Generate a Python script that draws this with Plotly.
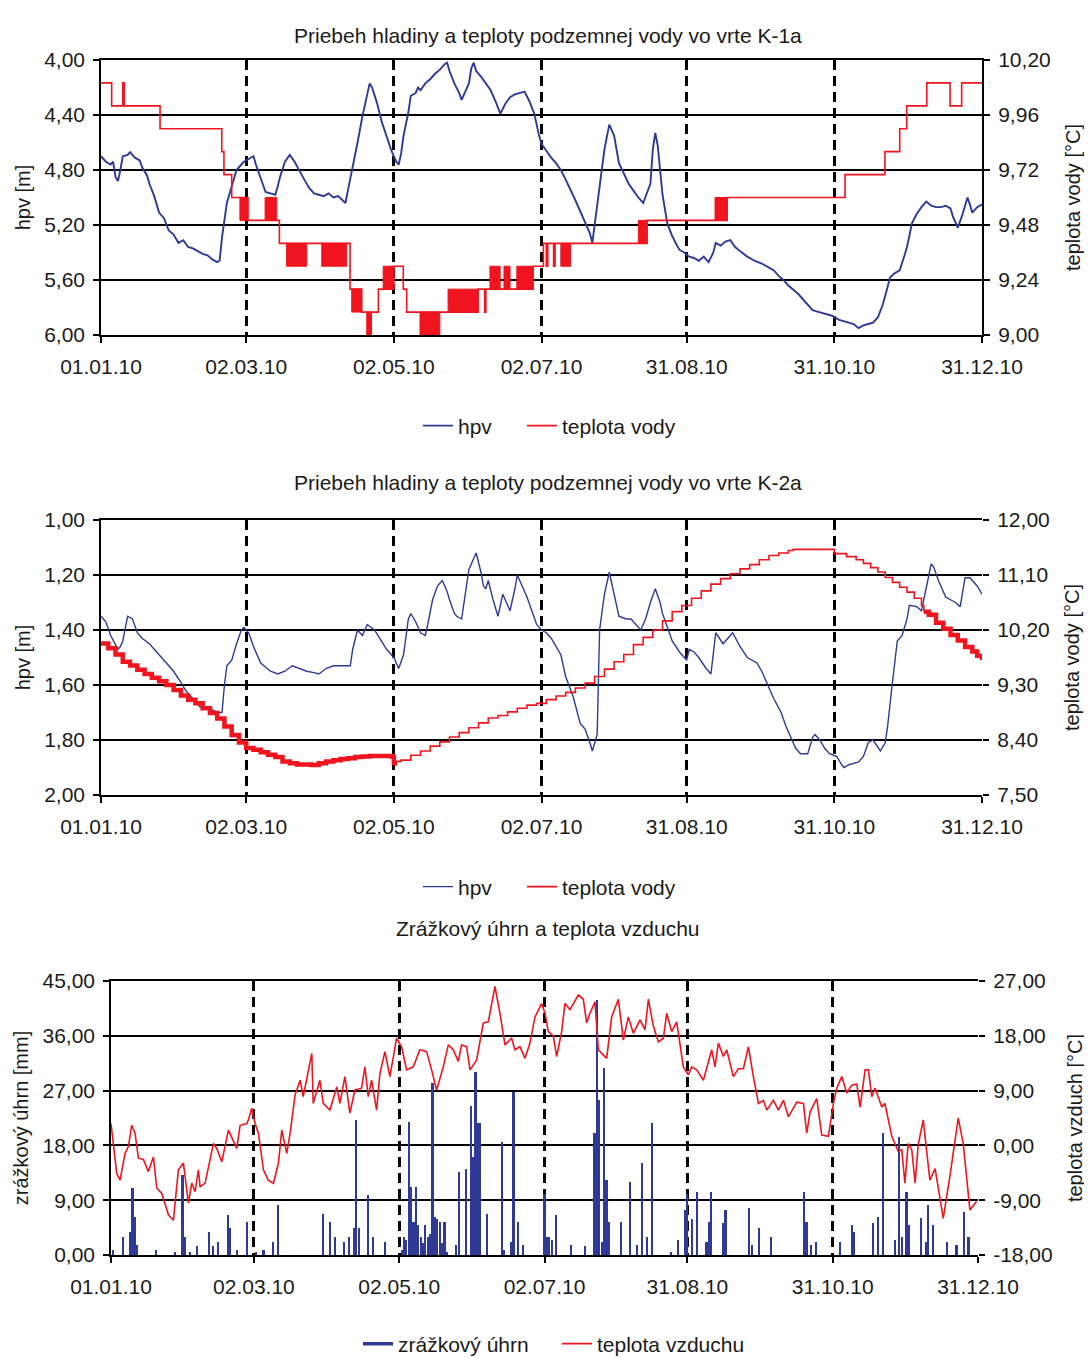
import plotly.graph_objects as go

# ---------------- data ----------------
tick_days = [0, 60, 121, 182, 242, 303, 364]
tick_text = ["01.01.10", "02.03.10", "02.05.10", "02.07.10", "31.08.10", "31.10.10", "31.12.10"]
dash_days_top = [60, 121, 182, 242, 303]
dash_days_low = [60, 121, 182, 242, 303, 364]

# axis tick values
k1_hpv_ticks = [4.0, 4.4, 4.8, 5.2, 5.6, 6.0]
k1_temp_ticks = [9.0, 9.24, 9.48, 9.72, 9.96, 10.2]
k2_hpv_ticks = [1.0, 1.2, 1.4, 1.6, 1.8, 2.0]
k2_temp_ticks = [7.5, 8.4, 9.3, 10.2, 11.1, 12.0]
rain_ticks = [0, 9, 18, 27, 36, 45]
air_ticks = [-18, -9, 0, 9, 18, 27]

# K-1a: groundwater level (m below surface)
k1_hpv_day = [
    0, 2, 4, 5, 6, 7, 8, 9, 11, 12,
    14, 16, 17, 19, 20, 22, 24, 26, 28, 30,
    32, 34, 36, 38, 40, 42, 44, 46, 48, 49,
    50, 51, 52, 54, 56, 58, 59, 61, 63, 64,
    66, 68, 70, 72, 73, 74, 76, 78, 80, 82,
    84, 86, 88, 90, 92, 94, 96, 98, 100, 101,
    102, 104, 106, 108, 110, 111, 112, 114, 116, 118,
    120, 122, 123, 124, 125, 127, 128, 130, 131, 132,
    134, 136, 138, 140, 142, 143, 144, 146, 148, 149,
    150, 152, 153, 154, 155, 157, 159, 161, 163, 165,
    167, 169, 171, 173, 175, 177, 179, 181, 182, 184,
    186, 188, 190, 192, 194, 196, 198, 200, 202, 203,
    204, 206, 208, 210, 212, 214, 216, 218, 220, 222,
    224, 226, 227, 228, 229, 230, 231, 232, 234, 236,
    238, 239, 241, 243, 245, 247, 249, 251, 253, 254,
    256, 258, 260, 262, 264, 267, 270, 273, 276, 278,
    280, 282, 284, 286, 288, 290, 292, 294, 296, 298,
    300, 302, 305, 307, 309, 311, 313, 315, 317, 319,
    321, 323, 325, 326, 328, 330, 332, 333, 334, 335,
    337, 339, 341, 343, 345, 347, 349, 351, 352, 354,
    356, 358, 359, 360, 362, 364]
k1_hpv = [
    4.70, 4.74, 4.76, 4.74, 4.85, 4.88, 4.80, 4.70, 4.69, 4.67,
    4.71, 4.73, 4.78, 4.84, 4.90, 4.99, 5.11, 5.15, 5.24, 5.27,
    5.33, 5.31, 5.36, 5.37, 5.39, 5.41, 5.42, 5.45, 5.47, 5.46,
    5.29, 5.15, 5.04, 4.92, 4.80, 4.76, 4.74, 4.72, 4.70, 4.76,
    4.86, 4.96, 4.97, 4.98, 4.92, 4.85, 4.74, 4.69, 4.74, 4.81,
    4.87, 4.93, 4.97, 4.98, 4.99, 4.97, 5.00, 4.99, 5.02, 5.04,
    4.95, 4.78, 4.60, 4.41, 4.25, 4.17, 4.20, 4.31, 4.45, 4.55,
    4.66, 4.74, 4.76, 4.68, 4.55, 4.38, 4.26, 4.24, 4.20, 4.22,
    4.17, 4.14, 4.10, 4.07, 4.03, 4.02, 4.08, 4.17, 4.24, 4.29,
    4.25, 4.17, 4.06, 4.02, 4.08, 4.12, 4.17, 4.22, 4.30, 4.39,
    4.32, 4.27, 4.25, 4.24, 4.23, 4.30, 4.39, 4.55, 4.61, 4.66,
    4.71, 4.75, 4.80, 4.87, 4.94, 5.02, 5.10, 5.18, 5.26, 5.33,
    5.20, 4.90, 4.65, 4.47, 4.55, 4.75, 4.82, 4.90, 4.95, 5.00,
    5.04, 4.95, 4.90, 4.65, 4.53, 4.62, 4.78, 4.98, 5.19, 5.28,
    5.35, 5.38, 5.40, 5.43, 5.44, 5.46, 5.43, 5.47, 5.40, 5.33,
    5.35, 5.32, 5.31, 5.36, 5.39, 5.43, 5.46, 5.48, 5.51, 5.53,
    5.57, 5.60, 5.64, 5.67, 5.70, 5.74, 5.78, 5.82, 5.83, 5.84,
    5.85, 5.86, 5.89, 5.90, 5.91, 5.92, 5.95, 5.93, 5.92, 5.91,
    5.87, 5.78, 5.65, 5.58, 5.55, 5.53, 5.42, 5.36, 5.28, 5.19,
    5.12, 5.07, 5.03, 5.06, 5.07, 5.07, 5.06, 5.08, 5.14, 5.22,
    5.12, 5.00, 5.05, 5.11, 5.07, 5.05]

# K-1a: water temperature (step changes)
k1_temp_day = [
    0, 4.4, 9.0, 9.6, 24.4, 49.9, 50.8, 54.0, 60.7, 73.7,
    102.9, 107.7, 114.6, 121.0, 124.9, 126.3, 155.8, 158.5, 159.0, 178.5,
    182.8, 184.0, 184.6, 187.0, 187.6, 222.0, 225.6, 253.7, 258.7, 307.4,
    323.9, 330.0, 332.9, 341.2, 350.8, 355.6, 364.0]
k1_temp = [
    10.10, 10.00, 10.10, 10.00, 9.90, 9.80, 9.70, 9.60, 9.50, 9.40,
    9.20, 9.10, 9.20, 9.30, 9.20, 9.10, 9.20, 9.10, 9.20, 9.30,
    9.40, 9.30, 9.40, 9.30, 9.40, 9.40, 9.50, 9.50, 9.60, 9.70,
    9.80, 9.90, 10.00, 10.10, 10.00, 10.10, 10.10]
# K-1a: periods of rapid oscillation between two temperature levels
k1_osc_start = [57.4, 67.8, 76.7, 91.2, 103.6, 109.8, 116.6, 131.8, 143.4, 160.7, 166.5, 171.8, 190.0, 222.0, 253.7]
k1_osc_end = [60.7, 72.6, 85.0, 101.5, 107.7, 111.8, 120.7, 140.0, 155.8, 164.9, 169.0, 178.5, 194.0, 225.6, 258.7]
k1_osc_low = [9.50, 9.50, 9.30, 9.30, 9.10, 9.00, 9.20, 9.00, 9.10, 9.20, 9.20, 9.20, 9.30, 9.40, 9.50]
k1_osc_high = [9.60, 9.60, 9.40, 9.40, 9.20, 9.10, 9.30, 9.10, 9.20, 9.30, 9.30, 9.30, 9.40, 9.50, 9.60]

# K-2a: groundwater level
k2_hpv_day = [
    0, 2, 4, 6, 7, 8, 9, 11, 13, 15,
    17, 20, 22, 25, 28, 30, 33, 35, 37, 39,
    41, 44, 46, 48, 50, 51, 52, 54, 56, 58,
    59, 61, 63, 66, 70, 73, 76, 79, 82, 85,
    88, 90, 93, 96, 100, 103, 104, 106, 108, 110,
    113, 115, 118, 121, 123, 125, 127, 128, 130, 132,
    134, 135, 137, 139, 141, 143, 144, 146, 147, 149,
    151, 152, 154, 155, 157, 158, 159, 160, 162, 164,
    166, 168, 169, 171, 172, 174, 176, 178, 180, 182,
    184, 186, 188, 190, 192, 195, 198, 200, 202, 203,
    205, 206, 208, 210, 212, 214, 217, 219, 221, 223,
    225, 227, 229, 231, 232, 234, 236, 239, 242, 243,
    245, 247, 250, 252, 254, 257, 259, 261, 264, 267,
    271, 273, 275, 278, 281, 283, 285, 287, 289, 292,
    294, 295, 297, 299, 301, 304, 306, 307, 309, 311,
    313, 315, 317, 319, 322, 324, 325, 327, 329, 331,
    333, 334, 337, 339, 341, 343, 344, 346, 349, 351,
    353, 355, 357, 359, 360, 362, 364]
k2_hpv = [
    1.35, 1.37, 1.42, 1.45, 1.47, 1.46, 1.44, 1.35, 1.36, 1.41,
    1.43, 1.45, 1.47, 1.50, 1.53, 1.55, 1.59, 1.62, 1.64, 1.66,
    1.68, 1.685, 1.69, 1.70, 1.70, 1.60, 1.53, 1.51, 1.45, 1.40,
    1.39, 1.41, 1.46, 1.52, 1.55, 1.56, 1.55, 1.53, 1.54, 1.55,
    1.555, 1.56, 1.54, 1.53, 1.53, 1.53, 1.47, 1.40, 1.42, 1.38,
    1.40, 1.43, 1.47, 1.50, 1.54, 1.49, 1.36, 1.34, 1.37, 1.41,
    1.42, 1.38, 1.29, 1.24, 1.22, 1.26, 1.29, 1.34, 1.35, 1.36,
    1.24, 1.18, 1.14, 1.12, 1.19, 1.24, 1.25, 1.22, 1.29, 1.35,
    1.27, 1.31, 1.33, 1.25, 1.20, 1.24, 1.28, 1.33, 1.38, 1.40,
    1.41, 1.43, 1.46, 1.49, 1.57, 1.64, 1.74, 1.76, 1.81, 1.84,
    1.78, 1.40, 1.27, 1.19, 1.27, 1.35, 1.36, 1.36, 1.38, 1.40,
    1.36, 1.30, 1.25, 1.30, 1.34, 1.39, 1.44, 1.48, 1.51, 1.47,
    1.48, 1.50, 1.54, 1.56, 1.41, 1.45, 1.43, 1.41, 1.46, 1.50,
    1.52, 1.55, 1.59, 1.65, 1.70, 1.75, 1.79, 1.83, 1.85, 1.85,
    1.79, 1.78, 1.80, 1.83, 1.85, 1.86, 1.89, 1.90, 1.89, 1.885,
    1.88, 1.86, 1.81, 1.80, 1.84, 1.81, 1.75, 1.59, 1.44, 1.42,
    1.36, 1.31, 1.315, 1.33, 1.25, 1.16, 1.17, 1.22, 1.28, 1.29,
    1.30, 1.315, 1.21, 1.21, 1.22, 1.24, 1.27]

# K-2a: water temperature - noisy winter part, smooth staircase, noisy end
k2_temp_a_day = [0, 3, 6, 9, 12, 15, 18, 21, 24, 27, 30, 33, 36, 39, 42, 45, 48, 51, 54, 57,
                 60, 63, 66, 69, 72, 75, 78, 81, 84, 87, 90, 93, 96, 99, 102, 105, 108, 111, 114, 117,
                 120, 121]
k2_temp_a = [9.98, 9.90, 9.80, 9.68, 9.62, 9.55, 9.48, 9.42, 9.36, 9.30, 9.22, 9.13, 9.06, 9.00, 8.92, 8.84, 8.75, 8.62, 8.48, 8.36,
             8.27, 8.24, 8.20, 8.16, 8.12, 8.05, 8.02, 8.00, 8.00, 7.99, 8.02, 8.05, 8.07, 8.09, 8.10, 8.12, 8.13, 8.14, 8.14, 8.14,
             8.13, 7.99]
k2_temp_b_day = [121, 122, 124, 128, 132, 136, 140, 144, 148, 152,
                 156, 160, 164, 168, 172, 176, 180, 184, 188, 192,
                 196, 200, 204, 208, 212, 216, 220, 224, 228, 232,
                 236, 240, 244, 248, 252, 256, 260, 264, 268, 272,
                 276, 280, 284, 286, 303, 308, 312, 315, 318, 321,
                 324, 327, 330, 333, 336, 339, 340]
k2_temp_b = [7.99, 8.05, 8.07, 8.15, 8.22, 8.30, 8.37, 8.45, 8.52, 8.60,
             8.68, 8.76, 8.80, 8.86, 8.92, 8.97, 9.00, 9.06, 9.12, 9.18,
             9.25, 9.33, 9.44, 9.56, 9.68, 9.80, 9.96, 10.08, 10.20, 10.35,
             10.50, 10.60, 10.72, 10.84, 10.95, 11.04, 11.12, 11.20, 11.27, 11.35,
             11.42, 11.46, 11.50, 11.52, 11.45, 11.40, 11.35, 11.29, 11.22, 11.15,
             11.06, 10.98, 10.90, 10.82, 10.72, 10.60, 10.50]
k2_temp_c_day = [340, 342, 345, 348, 351, 354, 357, 360, 362, 364]
k2_temp_c = [10.50, 10.45, 10.32, 10.22, 10.12, 10.03, 9.92, 9.85, 9.78, 9.71]

# Precipitation (mm) per day
rain_day = [
    1, 5, 8, 9, 10, 11, 19, 27, 30, 31,
    33, 36, 41, 43, 45, 49, 50, 53, 57, 61,
    64, 68, 70, 89, 92, 94, 98, 100, 102, 103,
    104, 108, 110, 115, 122, 123, 124, 125, 126, 127,
    128, 129, 130, 131, 132, 133, 134, 135, 136, 137,
    138, 139, 140, 141, 145, 146, 149, 151, 152, 153,
    154, 155, 158, 164, 165, 168, 169, 171, 173, 182,
    183, 184, 185, 187, 193, 199, 203, 204, 205, 206,
    207, 208, 209, 214, 218, 221, 223, 225, 227, 235,
    238, 241, 242, 244, 246, 250, 251, 252, 257, 258,
    268, 269, 272, 277, 291, 292, 294, 296, 306, 311,
    312, 320, 322, 324, 329, 331, 332, 334, 335, 340,
    342, 343, 345, 351, 355, 358, 360]
rain_mm = [
    0.8, 3.0, 3.7, 11.0, 6.3, 1.7, 0.8, 0.5, 13.1, 3.0,
    0.5, 1.4, 3.7, 1.4, 2.2, 6.6, 4.4, 0.8, 5.4, 0.5,
    0.8, 2.2, 8.2, 6.8, 5.4, 3.0, 2.2, 3.0, 4.4, 22.2,
    4.4, 9.9, 3.0, 2.2, 0.8, 3.0, 2.5, 21.9, 11.2, 5.4,
    11.2, 4.9, 3.0, 2.0, 4.9, 3.0, 3.5, 28.2, 6.3, 5.9,
    5.4, 2.0, 5.4, 0.5, 1.6, 13.7, 14.2, 24.4, 16.1, 30.1,
    21.6, 21.6, 6.8, 18.6, 0.8, 2.2, 26.8, 5.4, 1.6, 10.1,
    3.0, 3.0, 2.5, 6.6, 1.6, 1.4, 20.0, 41.9, 25.5, 2.2,
    30.7, 12.3, 5.4, 5.4, 12.0, 1.6, 15.1, 3.0, 21.6, 0.5,
    2.5, 7.4, 10.1, 5.9, 10.4, 2.2, 5.4, 10.4, 5.2, 7.4,
    7.7, 1.6, 4.4, 3.0, 10.4, 5.4, 1.6, 2.2, 2.2, 4.9,
    3.7, 5.2, 6.3, 20.0, 2.5, 19.4, 3.0, 10.4, 4.9, 6.0,
    2.2, 8.2, 4.9, 2.2, 1.6, 7.1, 3.0]

# Air temperature (deg C)
air_day = [
    0, 2.4, 3.8, 5.9, 7.3, 8.7, 10.1, 11.5, 13.6, 15.7,
    17.8, 19.2, 21.3, 24.1, 26.2, 28.3, 30.4, 32.5, 33.9, 35.3,
    36.7, 37.4, 39.5, 43.0, 44.4, 46.5, 49.3, 50.7, 52.8, 54.2,
    57.0, 57.7, 59.1, 60.5, 61.9, 64.0, 66.0, 68.2, 70.3, 71.7,
    73.8, 75.2, 77.3, 79.4, 80.7, 84.3, 84.9, 87.7, 89.1, 91.9,
    94.8, 96.1, 98.2, 100.3, 102.4, 105.2, 106.6, 108.0, 109.4, 111.5,
    112.9, 115.0, 117.1, 119.9, 122.0, 124.1, 126.9, 129.7, 132.5, 134.6,
    136.7, 139.5, 141.6, 143.7, 145.8, 147.2, 149.3, 150.7, 153.5, 156.3,
    158.4, 161.2, 163.3, 165.4, 168.2, 169.6, 171.7, 173.8, 175.9, 178.0,
    180.8, 182.2, 183.6, 185.7, 187.1, 189.2, 190.6, 192.7, 196.2, 198.3,
    199.7, 201.1, 203.2, 204.6, 208.1, 210.2, 213.0, 215.1, 217.2, 219.3,
    222.1, 224.2, 225.6, 227.7, 229.8, 231.9, 233.3, 235.4, 237.5, 240.3,
    242.4, 243.8, 245.9, 248.7, 252.2, 253.6, 255.0, 257.1, 258.5, 261.3,
    263.4, 265.5, 267.6, 269.7, 271.8, 273.9, 275.3, 278.1, 280.2, 282.3,
    284.4, 287.9, 290.7, 292.1, 293.5, 296.3, 298.4, 301.2, 303.3, 304.7,
    306.8, 308.9, 311.0, 313.1, 314.5, 316.6, 318.0, 319.4, 320.8, 323.6,
    324.9, 327.8, 330.5, 332.0, 333.3, 334.7, 336.2, 337.6, 338.9, 341.0,
    343.8, 346.0, 349.4, 352.2, 355.7, 357.8, 360.6, 363.4]
air_t = [
    3.6, -4.6, -5.7, -1.3, -0.2, 3.3, 2.0, -2.1, -2.3, -4.3,
    -1.9, -7.0, -7.9, -11.4, -12.3, -4.0, -2.9, -9.5, -6.2, -7.6,
    -4.0, -6.8, -6.2, 0.3, -0.5, -2.7, 2.5, 1.4, -0.5, 3.3,
    3.6, 4.2, 6.1, 3.6, 2.0, -4.0, -5.7, -6.2, -2.9, 2.5,
    -1.3, 2.0, 8.3, 10.7, 8.0, 15.1, 6.9, 10.7, 6.9, 5.8,
    9.6, 6.9, 11.3, 5.3, 9.1, 9.4, 12.9, 8.0, 10.7, 5.8,
    11.8, 15.4, 11.3, 17.6, 16.2, 12.4, 12.9, 15.7, 15.4, 12.4,
    9.1, 12.9, 16.5, 15.7, 13.8, 16.5, 16.2, 12.4, 14.0, 20.1,
    20.3, 26.1, 21.7, 16.5, 17.6, 15.7, 16.2, 14.3, 16.8, 21.1,
    23.3, 21.7, 18.7, 18.0, 14.6, 18.7, 23.3, 22.3, 24.7, 24.0,
    20.1, 21.7, 23.6, 15.7, 14.3, 21.1, 24.0, 17.3, 21.1, 18.4,
    20.6, 19.0, 24.0, 19.6, 17.0, 17.6, 21.7, 18.7, 20.3, 12.9,
    11.6, 12.9, 12.4, 10.7, 15.7, 12.9, 16.8, 14.6, 15.7, 11.3,
    12.6, 12.6, 16.2, 11.3, 6.9, 7.4, 5.8, 7.4, 5.8, 7.4,
    4.7, 7.1, 6.9, 2.0, 5.5, 7.7, 1.7, 1.5, 6.9, 9.4,
    11.3, 8.6, 9.9, 10.1, 6.3, 12.4, 12.4, 8.0, 9.4, 6.3,
    6.9, 1.5, -1.0, -0.7, -6.2, 0.3, -0.7, -6.2, 0.1, 4.2,
    -5.7, -3.8, -12.0, -5.1, 4.5, 0.3, -10.6, -9.2]

# ---------------- styling ----------------
PAGE_OFF = 8          # default body margin of the html page
W, H = 1092 - PAGE_OFF, 1358 - PAGE_OFF
BLUE = "#2F3A96"
RED = "#F0141E"
TXT = "#1a1a1a"
FONT = "Liberation Sans"


def fx(p):
    return (p - PAGE_OFF) / W


def fy(p):
    return 1 - (p - PAGE_OFF) / H


def lab(vals):
    return [f"{v:.2f}".replace(".", ",") for v in vals]


fig = go.Figure()

# --- top chart K-1a ---
fig.add_trace(go.Scatter(x=k1_hpv_day, y=k1_hpv, mode="lines", name="hpv", legendwidth=59,
                         line=dict(color=BLUE, width=1.9), xaxis="x", yaxis="y", legend="legend"))
fig.add_trace(go.Scatter(x=k1_temp_day, y=k1_temp, mode="lines", name="teplota vody",
                         line=dict(color=RED, width=1.6, shape="hv"), xaxis="x", yaxis="y2", legend="legend"))
bx, by = [], []
for s, e, lo, hi in zip(k1_osc_start, k1_osc_end, k1_osc_low, k1_osc_high):
    bx += [s, e, e, s, s, None]
    by += [lo, lo, hi, hi, lo, None]
fig.add_trace(go.Scatter(x=bx, y=by, mode="lines", fill="toself", fillcolor=RED,
                         line=dict(color=RED, width=1), showlegend=False, hoverinfo="skip",
                         xaxis="x", yaxis="y2"))

# --- middle chart K-2a ---
fig.add_trace(go.Scatter(x=k2_hpv_day, y=k2_hpv, mode="lines", name="hpv", legendwidth=59,
                         line=dict(color=BLUE, width=1.4), xaxis="x2", yaxis="y3", legend="legend2"))
fig.add_trace(go.Scatter(x=k2_temp_b_day, y=k2_temp_b, mode="lines", name="teplota vody",
                         line=dict(color=RED, width=1.6, shape="hv"), xaxis="x2", yaxis="y4", legend="legend2"))
fig.add_trace(go.Scatter(x=k2_temp_a_day, y=k2_temp_a, mode="lines", showlegend=False,
                         line=dict(color=RED, width=4.5, shape="hv"), xaxis="x2", yaxis="y4"))
fig.add_trace(go.Scatter(x=k2_temp_c_day, y=k2_temp_c, mode="lines", showlegend=False,
                         line=dict(color=RED, width=4.5, shape="hv"), xaxis="x2", yaxis="y4"))

# --- bottom chart precipitation / air temperature ---
fig.add_trace(go.Bar(x=rain_day, y=rain_mm, width=0.9, marker=dict(color=BLUE, line=dict(width=0)),
                     showlegend=False, xaxis="x3", yaxis="y5"))
fig.add_trace(go.Scatter(x=[None], y=[None], mode="lines", name="zrážkový úhrn", legendwidth=154,
                         line=dict(color=BLUE, width=3.5), xaxis="x3", yaxis="y5", legend="legend3"))
fig.add_trace(go.Scatter(x=air_day, y=air_t, mode="lines", name="teplota vzduchu",
                         line=dict(color=RED, width=1.6), xaxis="x3", yaxis="y6", legend="legend3"))

tickfont = dict(family=FONT, size=21, color=TXT)
titlefont = dict(family=FONT, size=20, color=TXT)
legfont = dict(family=FONT, size=21, color=TXT)


def xax(domain, anchor, dashed):
    return dict(domain=domain, anchor=anchor, range=[0, 364], tickmode="array",
                tickvals=tick_days, ticktext=tick_text, showgrid=False, zeroline=False,
                showline=True, linecolor="black", linewidth=1.5, mirror=True, automargin=False,
                ticks="outside", ticklen=6, tickwidth=1.5, tickcolor="black",
                tickfont=tickfont, ticklabelstandoff=6,
                minor=dict(tickmode="array", tickvals=dashed, showgrid=True, gridcolor="black",
                           gridwidth=3, griddash="10px,6px", ticks=""))


def yleft(domain, anchor, rng, ticks, title):
    return dict(domain=domain, anchor=anchor, range=rng, tickmode="array", tickvals=ticks,
                ticktext=lab(ticks), automargin=False,
                showgrid=True, gridcolor="black", gridwidth=1.5, zeroline=False,
                showline=True, linecolor="black", linewidth=1.5,
                ticks="outside", ticklen=6, tickwidth=1.5, tickcolor="black",
                tickfont=tickfont, ticklabelstandoff=4,
                title=dict(text=title, font=titlefont, standoff=8))


def yright(base, anchor, rng, ticks, title, line):
    return dict(overlaying=base, side="right", anchor=anchor, range=rng, tickmode="array",
                tickvals=ticks, ticktext=lab(ticks), automargin=False,
                showgrid=False, zeroline=False,
                showline=line, linecolor="black", linewidth=2,
                ticks="outside", ticklen=6, tickwidth=1.5, tickcolor="black",
                tickfont=tickfont, ticklabelstandoff=4,
                title=dict(text=title, font=titlefont, standoff=16))


xd_top = [fx(101), fx(982)]
xd_bot = [fx(111), fx(978)]

fig.update_layout(
    width=W, height=H,
    margin=dict(l=0, r=0, t=0, b=0, autoexpand=False),
    paper_bgcolor="white", plot_bgcolor="white",
    font=dict(family=FONT, color=TXT, size=21),
    bargap=0,
    xaxis=xax(xd_top, "y", dash_days_top),
    yaxis=yleft([fy(335), fy(60)], "x", [6.0, 4.0], k1_hpv_ticks, "hpv [m]"),
    yaxis2=yright("y", "x", [9.0, 10.2], k1_temp_ticks, "teplota vody [°C]", True),
    xaxis2=xax(xd_top, "y3", dash_days_low),
    yaxis3=yleft([fy(795), fy(520)], "x2", [2.0, 1.0], k2_hpv_ticks, "hpv [m]"),
    yaxis4=yright("y3", "x2", [7.5, 12.0], k2_temp_ticks, "teplota vody [°C]", False),
    xaxis3=xax(xd_bot, "y5", dash_days_low),
    yaxis5=yleft([fy(1255), fy(981)], "x3", [0, 45], rain_ticks, "zrážkový úhrn [mm]"),
    yaxis6=yright("y5", "x3", [-18, 27], air_ticks, "teplota vzduch [°C]", False),
    legend=dict(x=fx(418), y=fy(426), xanchor="left", yanchor="middle", orientation="h",
                font=legfont, bgcolor="rgba(0,0,0,0)"),
    legend2=dict(x=fx(418), y=fy(887), xanchor="left", yanchor="middle", orientation="h",
                 font=legfont, bgcolor="rgba(0,0,0,0)"),
    legend3=dict(x=fx(358), y=fy(1344), xanchor="left", yanchor="middle", orientation="h",
                 font=legfont, bgcolor="rgba(0,0,0,0)"),
    annotations=[
        dict(text="Priebeh hladiny a teploty podzemnej vody vo vrte K-1a", x=fx(548), y=fy(22),
             xref="paper", yref="paper", showarrow=False, font=dict(family=FONT, size=21, color=TXT)),
        dict(text="Priebeh hladiny a teploty podzemnej vody vo vrte K-2a", x=fx(548), y=fy(482),
             xref="paper", yref="paper", showarrow=False, font=dict(family=FONT, size=21, color=TXT)),
        dict(text="Zrážkový úhrn a teplota vzduchu", x=fx(548), y=fy(942),
             xref="paper", yref="paper", showarrow=False, font=dict(family=FONT, size=21, color=TXT)),
    ],
)

fig.write_html("out.html")
